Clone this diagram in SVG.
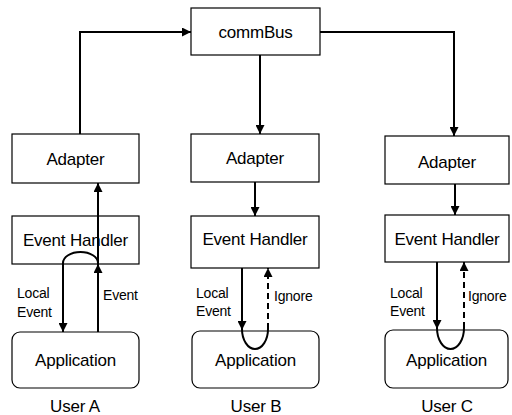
<svg xmlns="http://www.w3.org/2000/svg" width="512" height="415" viewBox="0 0 512 415">
<style>
.box{fill:#fff;stroke:#000;stroke-width:1.2}
.t{font-family:"Liberation Sans",Arial,sans-serif;font-size:17px;text-anchor:middle;fill:#000;letter-spacing:-0.2px}
.s{font-family:"Liberation Sans",Arial,sans-serif;font-size:14px;fill:#000;letter-spacing:-0.2px}
.c{fill:none;stroke:#000;stroke-width:2}
.d{stroke-dasharray:6,4}
</style>
<defs>
<marker id="ah" viewBox="0 0 10 10" refX="10" refY="5" markerWidth="9" markerHeight="9" markerUnits="userSpaceOnUse" orient="auto">
<path d="M0,0 L10,5 L0,10 z" fill="#000"/>
</marker>
</defs>
<rect width="512" height="415" fill="#fff"/>
<g id="commBus"><rect class="box" x="191" y="8" width="129" height="47"/><text class="t" x="255.5" y="38">commBus</text></g>
<g id="adapterA"><rect class="box" x="12" y="134" width="127" height="49"/><text class="t" x="75.5" y="165">Adapter</text></g>
<g id="adapterB"><rect class="box" x="191" y="134" width="128" height="48"/><text class="t" x="255" y="164">Adapter</text></g>
<g id="adapterC"><rect class="box" x="385" y="136" width="124" height="48"/><text class="t" x="447" y="168">Adapter</text></g>
<g id="handlerA"><rect class="box" x="12" y="216" width="127" height="48"/><text class="t" x="75.5" y="246">Event Handler</text></g>
<g id="handlerB"><rect class="box" x="191" y="216" width="128" height="52"/><text class="t" x="255" y="245">Event Handler</text></g>
<g id="handlerC"><rect class="box" x="385" y="215" width="124" height="47"/><text class="t" x="447" y="245">Event Handler</text></g>
<g id="appA"><rect class="box" x="12" y="332" width="127" height="56" rx="8"/><text class="t" x="75.5" y="366">Application</text></g>
<g id="appB"><rect class="box" x="192" y="331" width="127" height="57" rx="8"/><text class="t" x="255.5" y="366">Application</text></g>
<g id="appC"><rect class="box" x="385" y="330" width="123" height="58" rx="8"/><text class="t" x="446.5" y="366">Application</text></g>
<g id="userA"><text class="t" x="75" y="412">User A</text></g>
<g id="userB"><text class="t" x="256" y="412">User B</text></g>
<g id="userC"><text class="t" x="447" y="412">User C</text></g>
<g id="connectors">
<path class="c" d="M80,134 L80,32 L191,32" marker-end="url(#ah)"/>
<path class="c" d="M320,32 L454,32 L454,136" marker-end="url(#ah)"/>
<path class="c" d="M260,55 L260,134" marker-end="url(#ah)"/>
<path class="c" d="M255,182 L255,216" marker-end="url(#ah)"/>
<path class="c" d="M455,184 L455,215" marker-end="url(#ah)"/>
<path class="c" d="M98,332 L98,264" marker-end="url(#ah)"/>
<path class="c" d="M98,264 L98,183" marker-end="url(#ah)"/>
<path class="c" d="M98,263 A17.5,11 0 0 0 63,263 L63,332" marker-end="url(#ah)"/>
<path class="c" d="M242,268 L242,330" marker-end="url(#ah)"/>
<path class="c" d="M242,329 A13,20 0 0 0 268,329"/>
<path class="c d" d="M268,329 L268,268" marker-end="url(#ah)"/>
<path class="c" d="M437,262 L437,329" marker-end="url(#ah)"/>
<path class="c" d="M437,328 A13.5,21 0 0 0 464,328"/>
<path class="c d" d="M464,328 L464,262" marker-end="url(#ah)"/>
</g>
<g id="labels">
<text class="s" x="17" y="298">Local</text><text class="s" x="17" y="317">Event</text>
<text class="s" x="103" y="300">Event</text>
<text class="s" x="196" y="298">Local</text><text class="s" x="196" y="316">Event</text>
<text class="s" x="274" y="301">Ignore</text>
<text class="s" x="390" y="298">Local</text><text class="s" x="390" y="316">Event</text>
<text class="s" x="468" y="301">Ignore</text>
</g>
</svg>
